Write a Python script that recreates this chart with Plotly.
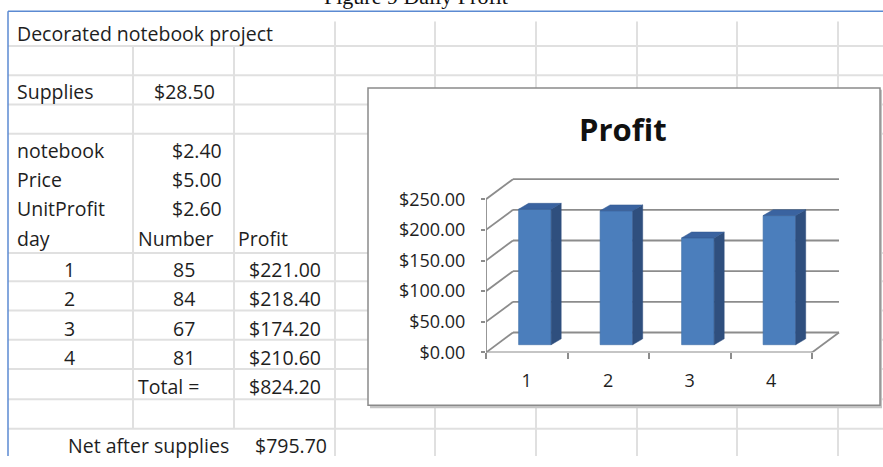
import plotly.graph_objects as go

# worksheet values
sheet_title = "Decorated notebook project"
cost_labels = ["Supplies", "notebook", "Price", "UnitProfit"]
cost_values = [28.50, 2.40, 5.00, 2.60]
days = [1, 2, 3, 4]
numbers = [85, 84, 67, 81]
profits = [221.00, 218.40, 174.20, 210.60]
total_profit = 824.20
net_after_supplies = 795.70
y_ticks = [0, 50, 100, 150, 200, 250]

W, H = 883, 467
FONT = "Open Sans, Lato, sans-serif"
TXT = "#1e1e1e"
GRID = "#e0e0e0"


def px(x):
    return x / W


def py(y):
    return 1 - y / H


def money(v):
    return "${:,.2f}".format(v)


shapes = []
annotations = []


def line(x0, y0, x1, y1, color=GRID, width=2):
    shapes.append(dict(type="line", xref="paper", yref="paper",
                       x0=px(x0), y0=py(y0), x1=px(x1), y1=py(y1),
                       line=dict(color=color, width=width), layer="below"))


def cell(x, y, text, anchor="left", size=19.5):
    annotations.append(dict(xref="paper", yref="paper", x=px(x), y=py(y),
                            text=text, showarrow=False, xanchor=anchor, yanchor="middle",
                            borderpad=0, font=dict(family=FONT, size=size, color=TXT)))


# sheet gridlines
for r in [47, 77, 107, 137, 259, 288, 318, 348, 378, 409, 439]:
    line(8, r, W, r)
for c in [133, 234, 335, 435, 536, 637, 737, 838]:
    if c < 300:
        line(c, 47, c, 439)
    else:
        line(c, 22, c, H)

# blue page frame
line(8, 11.5, W, 11.5, color="#5b8ad2", width=1.5)
line(8, 11.5, 8, H, color="#5b8ad2", width=1.5)

# chart box with shadow
shapes.append(dict(type="rect", xref="paper", yref="paper", x0=px(370), y0=py(418),
                   x1=px(882), y1=py(92), fillcolor="#c4c4c4", line=dict(width=0), layer="below"))
shapes.append(dict(type="rect", xref="paper", yref="paper", x0=px(368), y0=py(415),
                   x1=px(880), y1=py(90), fillcolor="white",
                   line=dict(color="#8a8a8a", width=1.5), layer="below"))

# cell texts
cell(16, 34, sheet_title)
row_y = [94, 154, 184, 214]
row_right = [216, 223, 223, 223]
for lab, val, y, xr in zip(cost_labels, cost_values, row_y, row_right):
    cell(16, y, lab)
    cell(xr, y, money(val), anchor="right")
cell(16, 244, "day")
cell(137, 244, "Number")
cell(237, 244, "Profit")
for i, (d, n, p) in enumerate(zip(days, numbers, profits)):
    y = 276 + 30 * i
    cell(69, y, str(d), anchor="center")
    cell(184, y, str(n), anchor="center")
    cell(322, y, money(p), anchor="right")
cell(137, 396, "Total =")
cell(322, 396, money(total_profit), anchor="right")
cell(230, 456, "Net after supplies", anchor="right")
cell(328, 456, money(net_after_supplies), anchor="right")

# caption cut off at the top of the page
annotations.append(dict(xref="paper", yref="paper", x=px(416), y=py(11), text="Figure 9 Daily Profit",
                        showarrow=False, xanchor="center", yanchor="bottom",
                        font=dict(family="Liberation Serif, serif", size=22, color="#111")))

# chart title
annotations.append(dict(xref="paper", yref="paper", x=px(623), y=py(132), text="<b>Profit</b>",
                        showarrow=False, xanchor="center", yanchor="middle",
                        font=dict(family=FONT, size=31, color="#111")))

# ---- pseudo 3D column chart on x2/y2 ----
PX_CAT = 81.5      # pixels per category
PX_USD = 0.628     # pixels per dollar
X0_PX, Y0_PX = 486, 361
X_RANGE = [0.5, 5.0]
Y_RANGE = [0, 290]
DX = 27 / PX_CAT   # depth offset of back wall
DY = 20.5 / PX_USD
BASE = 12.7        # bars stand a bit behind the front edge
SHIFT = 0.1
BW = 0.40
BDX = 10 / PX_CAT  # depth of a bar
BDY = 6 / PX_USD

WALL = "#8c8c8c"


def wall(x0, y0, x1, y1):
    shapes.append(dict(type="line", xref="x2", yref="y2", x0=x0, y0=y0, x1=x1, y1=y1,
                       line=dict(color=WALL, width=1.8), layer="below"))


for v in y_ticks:
    wall(0.5, v, 0.5 + DX, v + DY)
    wall(0.5 + DX, v + DY, 4.5 + DX, v + DY)
wall(0.5, 0, 4.5, 0)
wall(4.5, 0, 4.5 + DX, DY)
wall(0.5, 0, 0.5, y_ticks[-1])

fig = go.Figure()
fig.add_trace(go.Bar(x=days, y=profits, base=BASE, width=BW, offset=SHIFT - BW / 2,
                     xaxis="x2", yaxis="y2", hoverinfo="skip",
                     marker=dict(color="#4b7ebc", line=dict(width=0.6, color="#3f6fa8"))))

sx, sy, tx, ty = [], [], [], []
for d, p in zip(days, profits):
    xl = d + SHIFT - BW / 2
    xr = d + SHIFT + BW / 2
    top = BASE + p
    sx += [xr, xr + BDX, xr + BDX, xr, xr, None]
    sy += [BASE, BASE + BDY, top + BDY, top, BASE, None]
    tx += [xl, xr, xr + BDX, xl + BDX, xl, None]
    ty += [top, top, top + BDY, top + BDY, top, None]
fig.add_trace(go.Scatter(x=sx, y=sy, mode="lines", fill="toself", fillcolor="#2f4f7e",
                         line=dict(width=0.5, color="#2f4f7e"), xaxis="x2", yaxis="y2", hoverinfo="skip"))
fig.add_trace(go.Scatter(x=tx, y=ty, mode="lines", fill="toself", fillcolor="#3a63a0",
                         line=dict(width=0.5, color="#33598f"), xaxis="x2", yaxis="y2", hoverinfo="skip"))

x_right_px = X0_PX + (X_RANGE[1] - X_RANGE[0]) * PX_CAT
y_top_px = Y0_PX - (Y_RANGE[1] - Y_RANGE[0]) * PX_USD

fig.update_layout(
    width=W, height=H,
    margin=dict(l=0, r=0, t=0, b=0),
    paper_bgcolor="white",
    plot_bgcolor="rgba(0,0,0,0)",
    showlegend=False,
    shapes=shapes,
    annotations=annotations,
    xaxis2=dict(domain=[px(X0_PX), px(x_right_px)], range=X_RANGE, anchor="y2",
                tickvals=days, ticktext=[str(d) for d in days], ticks="",
                showgrid=False, zeroline=False, showline=False, fixedrange=True,
                ticklabelstandoff=16,
                tickfont=dict(family=FONT, size=18, color=TXT),
                minor=dict(tickmode="linear", tick0=0.5, dtick=1, ticks="outside",
                           ticklen=6, tickwidth=1.5, tickcolor=WALL, showgrid=False)),
    yaxis2=dict(domain=[py(Y0_PX), py(y_top_px)], range=Y_RANGE, anchor="x2",
                tickvals=y_ticks, tickformat="$.2f", ticks="outside", ticklen=4,
                tickwidth=1.5, tickcolor=WALL, ticklabelstandoff=12,
                showgrid=False, zeroline=False, showline=False, fixedrange=True,
                tickfont=dict(family=FONT, size=18, color=TXT)),
)

# the page's default body margin would shift the figure by 8px
fig.write_html("out.html", config={"displayModeBar": False},
               post_script="document.body.style.margin='0';")
